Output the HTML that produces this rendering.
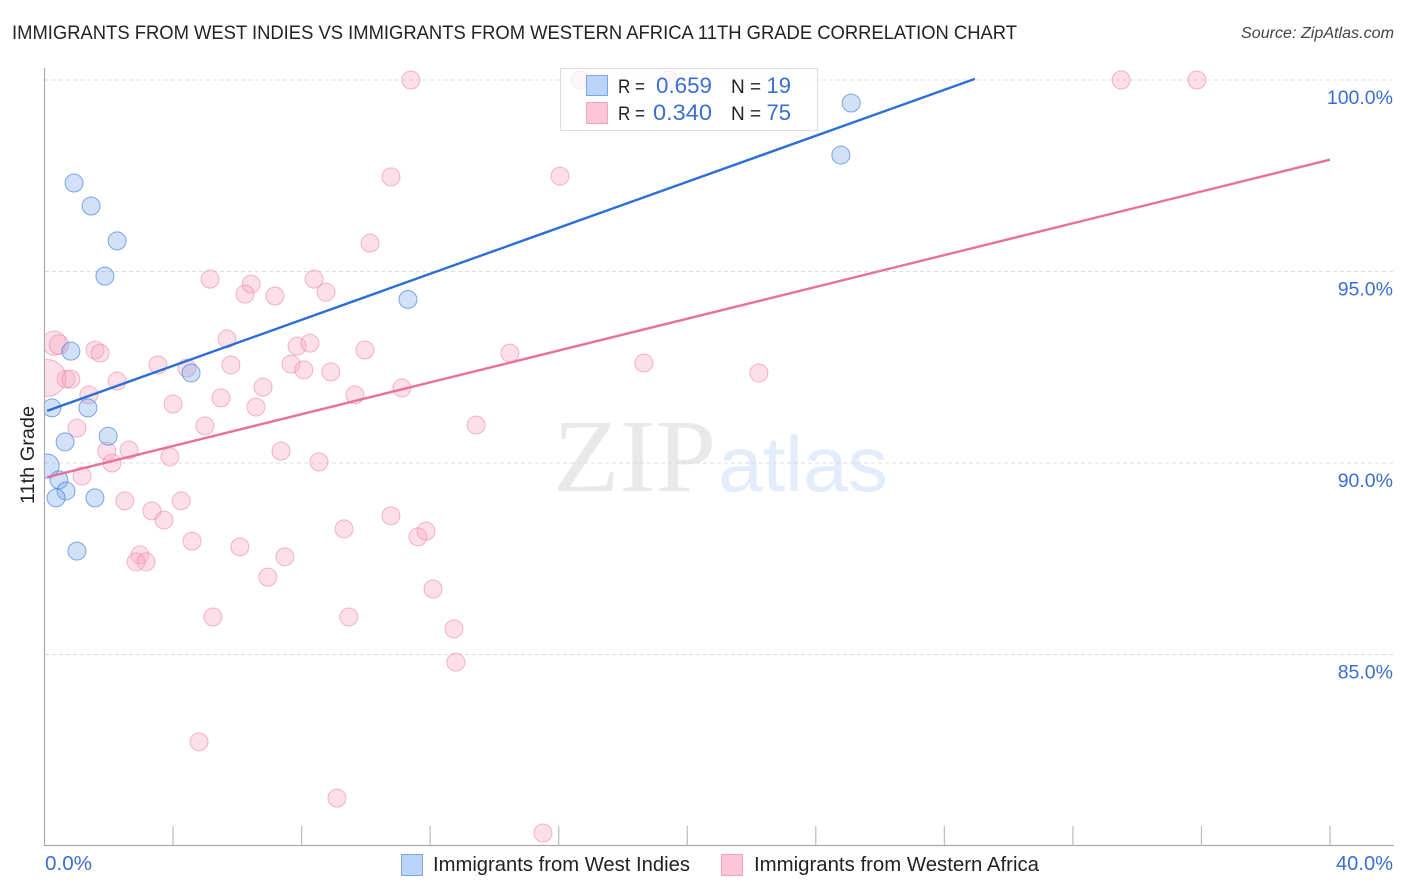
<!DOCTYPE html>
<html lang="en">
<head>
<meta charset="utf-8">
<title>Immigrants from West Indies vs Immigrants from Western Africa 11th Grade Correlation Chart</title>
<style>
html,body{margin:0;padding:0;background:#fff;}
svg{display:block;font-family:"Liberation Sans",sans-serif;}
</style>
</head>
<body>
<svg id="chart" xmlns="http://www.w3.org/2000/svg" width="1406" height="892" viewBox="0 0 1406 892">
  <defs><clipPath id="plot-clip"><rect x="45" y="60" width="1350" height="785"/></clipPath></defs>
  <rect x="0" y="0" width="1406" height="892" fill="#ffffff"/>
  <text x="12" y="39" font-size="19" fill="#222" textLength="1005" lengthAdjust="spacingAndGlyphs">IMMIGRANTS FROM WEST INDIES VS IMMIGRANTS FROM WESTERN AFRICA 11TH GRADE CORRELATION CHART</text>
  <text x="1241" y="38" font-size="15.5" font-style="italic" fill="#444" textLength="153" lengthAdjust="spacingAndGlyphs">Source: ZipAtlas.com</text>
  <g>
    <text x="553" y="491" font-family="'Liberation Serif',serif" font-size="104" fill="#e9e9e9" textLength="163" lengthAdjust="spacingAndGlyphs">ZIP</text>
    <text x="718" y="491" font-size="78" fill="#e2ecfa" textLength="170" lengthAdjust="spacingAndGlyphs">atlas</text>
  </g>
  <g id="grid"></g>
  <g id="axes"></g>
  <g id="marks" clip-path="url(#plot-clip)"></g>
  <g id="lines" clip-path="url(#plot-clip)"></g>
  <text transform="translate(34,455) rotate(-90)" font-size="19" fill="#222" text-anchor="middle" textLength="98" lengthAdjust="spacingAndGlyphs">11th Grade</text>
  <g>
    <rect x="560.5" y="68.5" width="257" height="62" fill="#ffffff" fill-opacity="0.75" stroke="#dddddd" stroke-width="1"/>
    <rect x="586.5" y="75.5" width="21" height="20" fill="#b9d4f8" stroke="#7fa6e0"/>
    <rect x="586.5" y="102.5" width="21" height="21" fill="#fcc6d8" stroke="#f3a3bf"/>
    <text x="618" y="93" font-size="19" fill="#222" textLength="27" lengthAdjust="spacingAndGlyphs">R =</text>
    <text x="656" y="93" font-size="22" fill="#3a6fd0" textLength="56" lengthAdjust="spacingAndGlyphs">0.659</text>
    <text x="731" y="93" font-size="19" fill="#222">N =</text>
    <text x="791" y="93" font-size="22" fill="#3a6fd0" text-anchor="end">19</text>
    <text x="618" y="120" font-size="19" fill="#222" textLength="27" lengthAdjust="spacingAndGlyphs">R =</text>
    <text x="653" y="120" font-size="22" fill="#3a6fd0" textLength="59" lengthAdjust="spacingAndGlyphs">0.340</text>
    <text x="731" y="120" font-size="19" fill="#222">N =</text>
    <text x="791" y="120" font-size="22" fill="#3a6fd0" text-anchor="end">75</text>
  </g>
  <g>
    <g>
      <rect x="401.5" y="854.5" width="21" height="21" fill="#b9d4f8" stroke="#7fa6e0"/>
      <text x="433" y="871" font-size="20" fill="#222" textLength="257" lengthAdjust="spacingAndGlyphs">Immigrants from West Indies</text>
    </g>
    <g>
      <rect x="721.5" y="854.5" width="21" height="21" fill="#fcc6d8" stroke="#f3a3bf"/>
      <text x="754" y="871" font-size="20" fill="#222" textLength="285" lengthAdjust="spacingAndGlyphs">Immigrants from Western Africa</text>
    </g>
  </g>
</svg>
<script>
var yTickValues = [100, 95, 90, 85];
var yTickLabels = ["100.0%", "95.0%", "90.0%", "85.0%"];
var xTickValues = [0, 4, 8, 12, 16, 20, 24, 28, 32, 36, 40];
var xEndLabels = ["0.0%", "40.0%"];

var blueX = [25.10,24.78,0.92,1.45,2.26,1.88,11.31,0.82,4.56,0.23,1.35,0.64,1.98,0.08,0.45,0.67,0.36,1.57,1.01];
var blueY = [99.40,98.04,97.31,96.71,95.80,94.88,94.27,92.92,92.35,91.44,91.44,90.55,90.70,89.92,89.56,89.27,89.09,89.09,87.70];
var blueWeight = [1,1,1,1,1,1,1,1,1,1,1,1,1,1.8,1,1,1,1,1];

var pinkX = [11.40,16.66,19.43,33.50,35.86,10.78,16.04,10.13,5.15,6.43,6.24,7.17,8.39,8.76,5.68,7.86,8.26,9.97,1.57,1.73,3.53,4.43,5.80,7.67,8.07,8.91,14.48,18.65,22.23,0.67,0.82,2.26,1.38,6.80,11.12,9.66,5.49,4.00,6.58,4.99,1.01,13.43,1.94,2.63,7.36,3.90,2.10,8.54,1.17,2.50,4.25,3.34,3.72,10.78,9.32,11.87,11.62,4.59,6.08,2.97,7.48,2.85,3.16,6.95,12.09,5.24,9.47,12.74,12.80,4.81,9.10,15.51,0.09,0.30,0.45];
var pinkY = [100,100,100,100,100,97.47,97.49,95.74,94.80,94.67,94.41,94.36,94.80,94.46,93.24,93.05,93.13,92.95,92.95,92.87,92.56,92.48,92.56,92.58,92.43,92.38,92.87,92.61,92.35,92.19,92.19,92.14,91.78,91.98,91.96,91.78,91.70,91.54,91.46,90.97,90.91,90.99,90.31,90.34,90.31,90.16,90.00,90.03,89.66,89.01,89.01,88.75,88.51,88.62,88.28,88.22,88.07,87.96,87.81,87.60,87.55,87.42,87.42,87.02,86.71,85.98,85.98,85.67,84.80,82.72,81.25,80.34,92.22,93.13,93.09];
var pinkWeight = [1,1,1,1,1,1,1,1,1,1,1,1,1,1,1,1,1,1,1,1,1,1,1,1,1,1,1,1,1,1,1,1,1,1,1,1,1,1,1,1,1,1,1,1,1,1,1,1,1,1,1,1,1,1,1,1,1,1,1,1,1,1,1,1,1,1,1,1,1,1,1,1,4.2,1.8,1.2];

var blueTrendX = [0.08, 28.95];
var blueTrendY = [91.36, 100.03];
var pinkTrendX = [0.08, 40];
var pinkTrendY = [89.63, 97.92];

var NS = "http://www.w3.org/2000/svg";
function xScale(v) { return 44.5 + v * 32.1375; }
function yScale(v) { return 80 + (100 - v) * 38.3; }
function radius(w) { return Math.sqrt(w) * 9; }
function make(tag, attrs, parent) {
  var el = document.createElementNS(NS, tag);
  for (var k in attrs) { el.setAttribute(k, attrs[k]); }
  parent.appendChild(el);
  return el;
}

var grid = document.getElementById("grid");
var axes = document.getElementById("axes");
var marks = document.getElementById("marks");
var lines = document.getElementById("lines");

yTickValues.forEach(function (v, i) {
  var g = make("line", {x1: 45, x2: 1394, y1: yScale(v), y2: yScale(v), stroke: "#dcdcdc", "stroke-width": 1, "stroke-dasharray": "4 3"}, grid);
  
  
  var t = make("text", {x: 1393, y: yScale(v) + 24, "font-size": 19.5, fill: "#3a6fd0", "text-anchor": "end"}, axes);
  t.textContent = yTickLabels[i];
  
  
});

var yAxis = make("line", {x1: 44.5, x2: 44.5, y1: 68, y2: 846, stroke: "#aaaaaa", "stroke-width": 1.2}, axes);


var xAxis = make("line", {x1: 44, x2: 1394, y1: 845.5, y2: 845.5, stroke: "#aaaaaa", "stroke-width": 1.2}, axes);



xTickValues.forEach(function (v) {
  if (v === 0) { return; }
  var tk = make("line", {x1: xScale(v), x2: xScale(v), y1: 826, y2: 845, stroke: "#bbbbbb", "stroke-width": 1.2}, axes);
  
  
});

var xLabelLeft = make("text", {x: 45, y: 870, "font-size": 20, fill: "#3a6fd0", textLength: 47, lengthAdjust: "spacingAndGlyphs"}, axes);
xLabelLeft.textContent = xEndLabels[0];


var xLabelRight = make("text", {x: 1336, y: 870, "font-size": 20, fill: "#3a6fd0", textLength: 57, lengthAdjust: "spacingAndGlyphs"}, axes);
xLabelRight.textContent = xEndLabels[1];



pinkX.forEach(function (v, i) {
  var c = make("circle", {cx: xScale(v), cy: yScale(pinkY[i]), r: radius(pinkWeight[i]), fill: "rgba(247,170,195,0.38)", stroke: "rgba(234,125,162,0.55)", "stroke-width": 1}, marks);
  
  
});
blueX.forEach(function (v, i) {
  var c = make("circle", {cx: xScale(v), cy: yScale(blueY[i]), r: radius(blueWeight[i]), fill: "rgba(120,170,235,0.35)", stroke: "rgba(50,115,215,0.6)", "stroke-width": 1}, marks);
  
  
});

var blueTrend = make("line", {x1: xScale(blueTrendX[0]), y1: yScale(blueTrendY[0]), x2: xScale(blueTrendX[1]), y2: yScale(blueTrendY[1]), stroke: "#2a6fd6", "stroke-width": 2.4}, lines);


var pinkTrend = make("line", {x1: xScale(pinkTrendX[0]), y1: yScale(pinkTrendY[0]), x2: xScale(pinkTrendX[1]), y2: yScale(pinkTrendY[1]), stroke: "#e8709e", "stroke-width": 2.4}, lines);


</script>
</body>
</html>
